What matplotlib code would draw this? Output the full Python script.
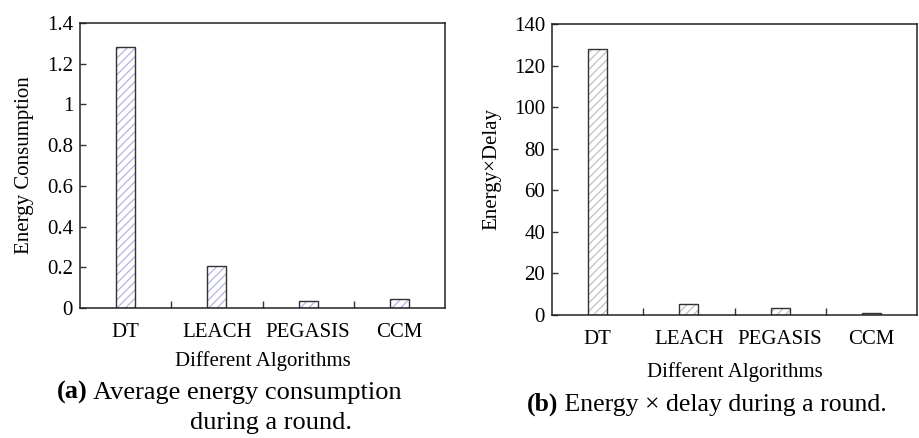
import matplotlib
matplotlib.use('Agg')
import matplotlib.pyplot as plt
import numpy as np

algorithms = ['DT', 'LEACH', 'PEGASIS', 'CCM']
energy = [1.28, 0.206, 0.034, 0.043]
energy_delay = [128.0, 5.3, 3.4, 1.1]

plt.rcParams['font.family'] = ['Liberation Serif', 'DejaVu Serif']
plt.rcParams['hatch.linewidth'] = 0.9

W, H = 919, 438
fig = plt.figure(figsize=(W / 100, H / 100), dpi=100)


def px_axes(left, top, right, bottom):
    return fig.add_axes([left / W, 1 - bottom / H, (right - left) / W, (bottom - top) / H])


def style(ax, values, ymax, ystep, hatch_color, ylabel, fmt, xlabelpad):
    x = np.arange(len(algorithms))
    ax.bar(x, values, width=0.21, color='white', edgecolor=hatch_color,
           hatch='////', linewidth=0)
    ax.bar(x, values, width=0.21, color='none', edgecolor='#333333', linewidth=1.0)
    ax.set_xlim(-0.5, len(algorithms) - 0.5)
    ax.set_ylim(0, ymax)
    yt = np.arange(0, ymax + ystep / 2, ystep)
    ax.set_yticks(yt)
    ax.set_yticklabels([fmt(v) for v in yt])
    ax.set_xticks(x)
    ax.set_xticklabels(algorithms)
    ax.set_xticks(x[:-1] + 0.5, minor=True)
    ax.tick_params(axis='x', which='major', length=0, pad=11, labelsize=15)
    ax.tick_params(axis='x', which='minor', direction='in', length=5, width=1, color='#333333')
    ax.tick_params(axis='y', direction='in', length=4, width=1, color='#333333',
                   labelsize=15, pad=5)
    for s in ax.spines.values():
        s.set_color('#222222')
        s.set_linewidth(1.1)
    ax.set_xlabel('Different Algorithms', fontsize=15, labelpad=xlabelpad)
    ax.set_ylabel(ylabel, fontsize=15, labelpad=9)


ax1 = px_axes(80, 23, 445, 308)
style(ax1, energy, 1.4, 0.2, '#b4b4e4', 'Energy Consumption',
      lambda v: '0' if abs(v) < 1e-9 else ('1' if abs(v - 1) < 1e-9 else f'{v:.1f}'), 6)

ax2 = px_axes(552, 24, 917, 315)
style(ax2, energy_delay, 140, 20, '#c0c0c0', 'Energy\u00d7Delay',
      lambda v: f'{int(round(v))}', 9)

# captions
t1 = fig.text(57 / W, 1 - 392 / H, '(a)', fontsize=19, fontweight='bold', va='center')
ax1.annotate(' Average energy consumption', xy=(1, 0), xycoords=t1, fontsize=19,
             va='bottom', ha='left', annotation_clip=False)
fig.text(190 / W, 1 - 423 / H, 'during a round.', fontsize=19, va='center')

t2 = fig.text(527 / W, 1 - 404 / H, '(b)', fontsize=18.5, fontweight='bold', va='center')
ax2.annotate(' Energy \u00d7 delay during a round.', xy=(1, 0), xycoords=t2, fontsize=18.5,
             va='bottom', ha='left', annotation_clip=False)

fig.savefig('out.png', dpi=100)
